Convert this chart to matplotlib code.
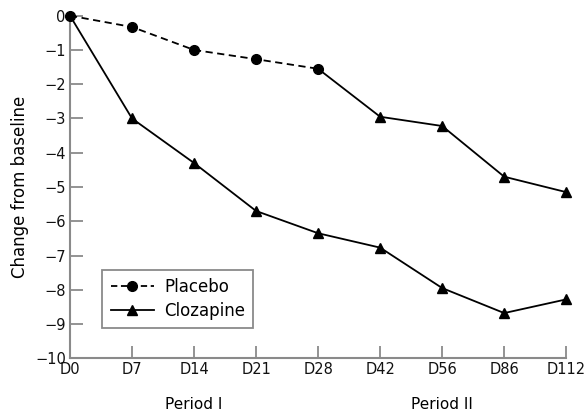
"""Change from baseline line chart, placebo vs clozapine."""

import matplotlib
matplotlib.use("agg")
import matplotlib.pyplot as plt
from matplotlib.lines import Line2D

days = ["D0", "D7", "D14", "D21", "D28", "D42", "D56", "D86", "D112"]
placebo = [0, -0.33, -1.0, -1.27, -1.55, -2.95, -3.22, -4.7, -5.15]
clozapine = [0, -3.0, -4.3, -5.7, -6.35, -6.77, -7.95, -8.68, -8.28]
switch_idx = 4  # placebo group crosses over to clozapine after D28
y_ticks = list(range(0, -11, -1))
periods = [("Period I", 2), ("Period II", 6)]

plt.rcParams["font.family"] = ["DejaVu Sans"]
grey = "#8a8a8a"

fig = plt.figure(figsize=(5.88, 4.16), dpi=100)
ax = fig.add_axes([0.119, 0.1387, 0.844, 0.8236])

x = list(range(len(days)))
mk = dict(markersize=7, color="black", linewidth=1.3, clip_on=False)

# Placebo: dashed circles in period I, then solid triangles once switched
ax.plot(x[:switch_idx + 1], placebo[:switch_idx + 1], "o", linestyle=(0, (4, 2.5)), **mk, zorder=4)
ax.plot(x[switch_idx:], placebo[switch_idx:], "-", **mk, zorder=3)
ax.plot(x[switch_idx + 1:], placebo[switch_idx + 1:], "^", linestyle="none",
        markersize=7, color="black", clip_on=False, zorder=4)

# Clozapine
ax.plot(x[1:], clozapine[1:], "^-", **mk, zorder=3)
ax.plot(x[:2], clozapine[:2], "-", color="black", linewidth=1.3, zorder=3)

ax.set_xlim(0, len(days) - 1)
ax.set_ylim(-10, 0)
ax.set_xticks(x)
ax.set_xticklabels(days)
ax.set_yticks(y_ticks)
ax.set_yticklabels([str(v).replace("-", "\u2212") for v in y_ticks])

for side in ("top", "right"):
    ax.spines[side].set_visible(False)
for side in ("left", "bottom"):
    ax.spines[side].set_color(grey)
    ax.spines[side].set_linewidth(1.5)
ax.tick_params(direction="in", length=9, width=1.3, color=grey, labelsize=10.5,
               labelcolor="#111111", pad=3)

ax.set_ylabel("Change from baseline", fontsize=12, labelpad=4)

for label, xpos in periods:
    ax.text(xpos, -0.112, label, transform=ax.get_xaxis_transform(),
            ha="center", va="top", fontsize=11)

handles = [
    Line2D([], [], color="black", marker="o", linestyle=(0, (3.5, 2)), markersize=7, linewidth=1.3),
    Line2D([], [], color="black", marker="^", linestyle="-", markersize=7, linewidth=1.3),
]
leg = ax.legend(handles, ["Placebo", "Clozapine"], loc="lower left",
                bbox_to_anchor=(0.065, 0.087), borderaxespad=0, fontsize=12,
                fancybox=False, framealpha=1, edgecolor=grey, handlelength=2.6,
                handletextpad=0.6, borderpad=0.5, labelspacing=0.35)
leg.get_frame().set_linewidth(1.3)

fig.savefig("out.png", dpi=100)
